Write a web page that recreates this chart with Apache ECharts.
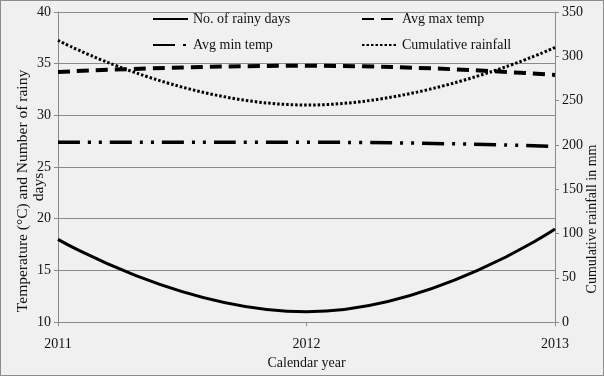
<!DOCTYPE html>
<html>
<head>
<meta charset="utf-8">
<script src="https://cdn.jsdelivr.net/npm/echarts@6/dist/echarts.min.js"></script>
<style>
  html, body { margin: 0; padding: 0; background: #f0f0f0; }
  #frame { position: absolute; left: 0; top: 0; width: 602px; height: 374px; border: 1px solid #8c8c8c; background: #f0f0f0; }
  #chart { width: 602px; height: 374px; }
</style>
</head>
<body>
<div id="frame"><div id="chart"></div></div>
<script>
// Calendar years on the x axis
const years = ['2011', '2012', '2013'];
// Left axis: temperature (°C) and number of rainy days
const rainyDays = [18, 11, 19];
const avgMaxTemp = [34.2, 34.8, 33.9];
const avgMinTemp = [27.4, 27.4, 27.0];
// Right axis: cumulative rainfall (mm)
const cumulativeRainfall = [318, 245, 310];

const serif = '"Liberation Serif", "DejaVu Serif", serif';
const ink = '#111';

const chart = echarts.init(document.getElementById('chart'), null, { renderer: 'canvas' });

// One legend block per entry so the four entries sit in a 2×2 layout
function legendAt(name, left, top) {
  return {
    data: [name], left: left, top: top, padding: 0,
    itemWidth: 35, itemHeight: 12,
    itemStyle: { opacity: 0 },
    textStyle: { fontFamily: serif, fontSize: 14, color: ink },
    selectedMode: false
  };
}

chart.setOption({
  backgroundColor: '#f0f0f0',
  animation: false,
  grid: { left: 57, right: 48, top: 11, bottom: 46 },
  legend: [
    legendAt('No. of rainy days', 151, 11),
    legendAt('Avg max temp', 360, 11),
    legendAt('Avg min temp', 151, 37),
    legendAt('Cumulative rainfall', 360, 37)
  ],
  xAxis: {
    type: 'category', data: years, boundaryGap: false,
    axisLine: { lineStyle: { color: '#8a8a8a' } },
    axisTick: { show: true, length: 4, lineStyle: { color: '#8a8a8a' } },
    axisLabel: { fontFamily: serif, fontSize: 14, color: ink, margin: 15 },
    name: 'Calendar year', nameLocation: 'middle', nameGap: 27,
    nameTextStyle: { fontFamily: serif, fontSize: 14, color: ink }
  },
  yAxis: [
    {
      type: 'value', min: 10, max: 40, interval: 5,
      axisLine: { show: true, lineStyle: { color: '#8a8a8a' } },
      axisTick: { show: true, length: 4, lineStyle: { color: '#8a8a8a' } },
      splitLine: { show: true, lineStyle: { color: '#8a8a8a', width: 1 } },
      axisLabel: { fontFamily: serif, fontSize: 14, color: ink, margin: 7 }
    },
    {
      type: 'value', min: 0, max: 350, interval: 50,
      axisLine: { show: true, lineStyle: { color: '#8a8a8a' } },
      axisTick: { show: true, length: 4, lineStyle: { color: '#8a8a8a' } },
      splitLine: { show: false },
      axisLabel: { fontFamily: serif, fontSize: 14, color: ink, margin: 7 }
    }
  ],
  graphic: [
    {
      type: 'text', x: 22, y: 190, rotation: Math.PI / 2,
      style: { text: 'Temperature (°C) and Number of rainy', fontFamily: serif, fontSize: 15.5,
        fill: ink, align: 'center', verticalAlign: 'middle' }
    },
    {
      type: 'text', x: 38, y: 186, rotation: Math.PI / 2,
      style: { text: 'days', fontFamily: serif, fontSize: 15.5,
        fill: ink, align: 'center', verticalAlign: 'middle' }
    },
    {
      type: 'text', x: 591, y: 218, rotation: Math.PI / 2,
      style: { text: 'Cumulative rainfall in mm', fontFamily: serif, fontSize: 14,
        fill: ink, align: 'center', verticalAlign: 'middle' }
    }
  ],
  series: [
    {
      name: 'No. of rainy days', type: 'line', yAxisIndex: 0, data: rainyDays,
      smooth: 0.5, symbol: 'none',
      lineStyle: { color: '#000', width: 3, type: 'solid' }, itemStyle: { color: '#000' }
    },
    {
      name: 'Avg max temp', type: 'line', yAxisIndex: 0, data: avgMaxTemp,
      smooth: 0.5, symbol: 'none',
      lineStyle: { color: '#000', width: 4, type: [12, 7] }, itemStyle: { color: '#000' }
    },
    {
      name: 'Avg min temp', type: 'line', yAxisIndex: 0, data: avgMinTemp,
      smooth: 0.5, symbol: 'none',
      lineStyle: { color: '#000', width: 3.5, type: [22, 8, 3, 8, 3, 8] }, itemStyle: { color: '#000' }
    },
    {
      name: 'Cumulative rainfall', type: 'line', yAxisIndex: 1, data: cumulativeRainfall,
      smooth: 0.5, symbol: 'none',
      lineStyle: { color: '#000', width: 3, type: [2.5, 2] }, itemStyle: { color: '#000' }
    }
  ]
});
</script>
</body>
</html>
